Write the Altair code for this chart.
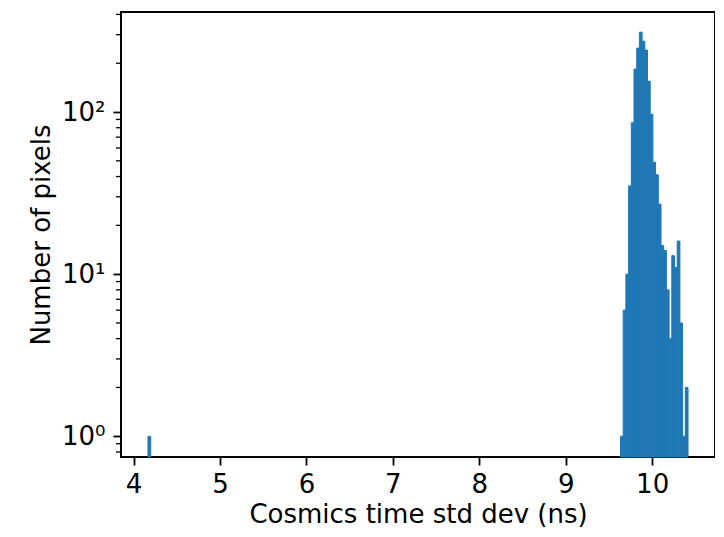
import altair as alt
import pandas as pd

# Histogram definition (200 equal bins between min and max of the data)
hist_min = 4.167
hist_max = 10.415
n_bins = 200

# Non-empty bins: index and count
bin_index = [0] + list(range(175, 200))
counts = [1,
          1, 6, 10, 35, 86, 184, 248, 311, 273, 241, 155, 97, 49,
          41, 27, 15, 14, 8, 4, 13, 11, 16, 5, 1, 2]

x_ticks = [4, 5, 6, 7, 8, 9, 10]
y_major = [1, 10, 100]
y_minor = [0.8, 0.9, 2, 3, 4, 5, 6, 7, 8, 9, 20, 30, 40, 50, 60, 70, 80, 90, 200, 300, 400]

w = (hist_max - hist_min) / n_bins
df = pd.DataFrame({
    "lo": [hist_min + i * w for i in bin_index],
    "hi": [hist_min + (i + 1) * w for i in bin_index],
    "count": counts,
})
span = hist_max - hist_min
x_dom = [hist_min - 0.05 * span, hist_max + 0.05 * span]
y_dom = [0.745, 414]

xs = alt.Scale(domain=x_dom, nice=False, zero=False)
ys = alt.Scale(type="log", domain=y_dom, nice=False)

FONT = "DejaVu Sans"
FS = 26
W, H = 594, 445

bars = alt.Chart(df).mark_rect(color="#1f77b4", stroke="#1f77b4", strokeWidth=1.0).encode(
    x=alt.X("lo:Q", scale=xs, axis=alt.Axis(
        values=x_ticks, format="d", title="Cosmics time std dev (ns)",
        tickSize=8, tickWidth=1.8, tickColor="black", domain=False, grid=False,
        labelFont=FONT, labelFontSize=FS, labelColor="black", labelPadding=6,
        titleFont=FONT, titleFontSize=FS, titleFontWeight="normal", titleColor="black",
        titleBaseline="alphabetic", titleY=65, titleX=W / 2)),
    x2="hi:Q",
    y=alt.Y("count:Q", scale=ys, axis=alt.Axis(
        values=y_major, title="Number of pixels",
        labelExpr="datum.value == 1 ? '10⁰' : (datum.value == 10 ? '10¹' : '10²')",
        tickSize=8, tickWidth=1.8, tickColor="black", domain=False, grid=False,
        labelFont=FONT, labelFontSize=FS, labelColor="black", labelPadding=8,
        titleFont=FONT, titleFontSize=FS, titleFontWeight="normal", titleColor="black",
        titleBaseline="alphabetic", titleX=-72, titleY=H / 2)),
    y2=alt.datum(y_dom[0]),
)

minor = alt.Chart(pd.DataFrame({"v": y_minor})).mark_rule(
    color="black", strokeWidth=1.3).encode(
    y=alt.Y("v:Q", scale=ys),
    x=alt.value(0),
    x2=alt.value(-5),
)

chart = alt.layer(bars, minor).properties(
    width=W, height=H,
    autosize="none",
    padding={"left": 113, "top": 4, "right": 0, "bottom": 72},
).configure_view(stroke="black", strokeWidth=2)

chart.save("out.html", embed_options={"renderer": "svg", "actions": False})
